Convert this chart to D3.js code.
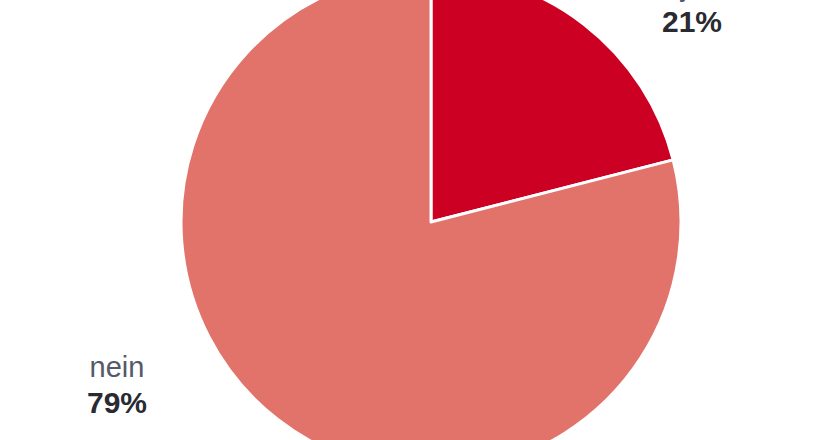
<html>
  <head>
    <meta charset="UTF-8" />
    <script src="https://cdnjs.cloudflare.com/ajax/libs/d3/7.8.5/d3.min.js" type="text/JavaScript"></script>
    <style>
      body { margin: 0; background: #fff; }
      text { font-family: "Liberation Sans", Arial, Helvetica, sans-serif; }
    </style>
  </head>
  <body>
    <div id="viz"><svg style="width:830px;height:440px;"></svg></div>
    <script>
      const categories = ["ja", "nein"];
      const values = [21, 79];
      const colors = ["#cc0022", "#e2736b"];

      const width = 830, height = 440;
      const cx = 431, cy = 222, radius = 250;

      // label anchors relative to pie centre (text is outside the pie)
      const labelPos = {
        ja: [261, -190],
        nein: [-314, 191]
      };

      const data = categories.map((c, i) => ({ name: c, value: values[i] }));

      const pie = d3.pie().sort(null).value(d => d.value);
      const arc = d3.arc().innerRadius(0).outerRadius(radius);

      const svg = d3.select("svg")
        .attr("width", width)
        .attr("height", height);

      const g = svg.append("g")
        .attr("transform", `translate(${cx}, ${cy})`);

      g.selectAll(".slice")
        .data(pie(data))
        .enter()
        .append("path")
        .attr("class", "slice")
        .attr("d", arc)
        .style("fill", (d, i) => colors[i])
        .style("stroke", "#fff")
        .style("stroke-width", 3)
        .style("stroke-linejoin", "round");

      const labels = g.selectAll(".label")
        .data(data)
        .enter()
        .append("g")
        .attr("class", "label")
        .attr("transform", d => `translate(${labelPos[d.name][0]}, ${labelPos[d.name][1]})`);

      labels.append("text")
        .attr("y", -36)
        .attr("text-anchor", "middle")
        .style("font-size", "29px")
        .style("fill", "#555a66")
        .text(d => d.name);

      labels.append("text")
        .attr("y", 0)
        .attr("text-anchor", "middle")
        .style("font-size", "30px")
        .style("font-weight", "bold")
        .style("fill", "#2a2a33")
        .text(d => d.value + "%");
    </script>
  </body>
</html>
